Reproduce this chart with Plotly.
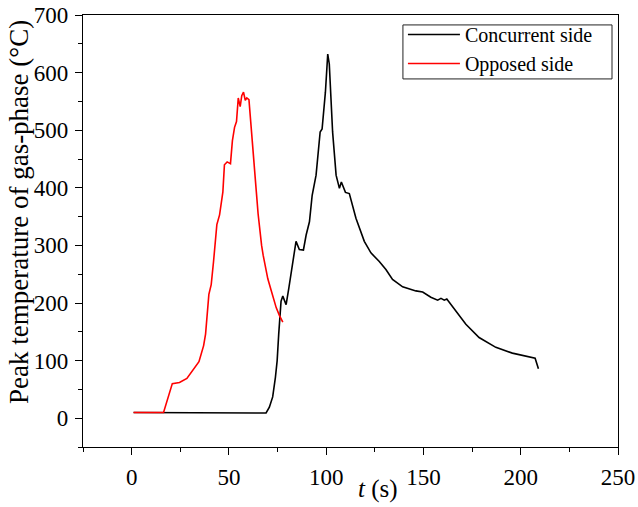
import plotly.graph_objects as go

# Concurrent side (black)
conc_t = [1, 30, 50, 69.1, 70.8, 72.5, 73.9, 74.8, 75.6, 76.8, 77.7, 79.4, 80.8, 82, 82.8,
          83.7, 84.5, 86.2, 88.3, 89.7, 91.4, 92.8, 94.8, 96.9, 97.9, 99.6, 100.8, 101.6,
          103.3, 105.1, 106.8, 107.8, 109.9, 111.9, 115.3, 119.6, 123, 127.3, 130.7, 134.1,
          139.3, 146.1, 149.6, 153.8, 157.3, 159, 160.7, 162, 165, 171.8, 178.6, 187.2,
          195.7, 202.6, 207.4, 209.1]
conc_T = [10, 10, 9, 9, 19, 37, 71, 100, 146, 203, 212, 197, 226, 255, 267,
          290, 307, 293, 292, 318, 341, 387, 422, 497, 502, 566, 632, 615,
          497, 422, 399, 410, 392, 390, 347, 307, 287, 272, 258, 241,
          228, 221, 219, 210, 205, 208, 205, 207, 193, 163, 140, 123,
          113, 107, 104, 86]

# Opposed side (red)
opp_t = [1, 16.4, 20.9, 24.6, 28.4, 31.5, 34.6, 37, 38, 39.7, 40.9, 42.1, 43.8, 45.2, 46.9,
         47.7, 49.1, 50.8, 51.8, 52.9, 53.9, 54.8, 55.8, 56.6, 57.5, 58.4, 59.2, 60.3,
         61.4, 62.4, 63.3, 64.1, 65.0, 65.9, 66.8, 67.6, 68.5, 70, 71.7, 74.3, 76, 77.7]
opp_T = [10, 10, 60, 62, 69, 83, 98, 126, 146, 215, 232, 272, 336, 353, 393,
         440, 445, 442, 482, 505, 515, 556, 541, 560, 566, 552, 556, 553,
         502, 465, 425, 393, 355, 322, 300, 283, 265, 242, 222, 192, 178, 167]

x_ticks = [0, 50, 100, 150, 200, 250]
y_ticks = [0, 100, 200, 300, 400, 500, 600, 700]
x_title = "<i>t</i> (s)"
y_title = "Peak temperature of gas-phase (°C)"

FONT = "Liberation Serif"

fig = go.Figure()
fig.add_trace(go.Scatter(x=conc_t, y=conc_T, mode="lines", name="Concurrent side",
                         line=dict(color="black", width=1.6)))
fig.add_trace(go.Scatter(x=opp_t, y=opp_T, mode="lines", name="Opposed side",
                         line=dict(color="#ff0000", width=1.6)))

axis_common = dict(
    showline=True, linecolor="black", linewidth=1.3, mirror=True,
    ticks="outside", ticklen=7, tickwidth=1.3, tickcolor="black",
    showgrid=False, zeroline=False, automargin=False, ticklabelstandoff=2,
    tickfont=dict(family=FONT, size=23, color="black"),
)

fig.update_xaxes(range=[-25, 250], tickvals=x_ticks,
                 minor=dict(dtick=25, tick0=0, ticks="outside", ticklen=4, tickwidth=1.3, tickcolor="black"),
                 **axis_common)
fig.update_yaxes(range=[-50, 700], tickvals=y_ticks,
                 minor=dict(dtick=50, tick0=0, ticks="outside", ticklen=4, tickwidth=1.3, tickcolor="black"),
                 **axis_common)

# axis titles
fig.add_annotation(text=x_title, xref="paper", yref="paper", x=0.551, y=-0.134,
                   xanchor="center", yanchor="bottom", showarrow=False,
                   font=dict(family=FONT, size=25, color="black"))
fig.add_annotation(text=y_title, xref="paper", yref="paper", x=-0.1196, y=0.544,
                   xanchor="center", yanchor="middle", showarrow=False, textangle=-90,
                   font=dict(family=FONT, size=27, color="black"))

# legend frame
fig.add_shape(type="rect", xref="paper", yref="paper", x0=0.598, x1=0.9888, y0=0.852, y1=0.977,
              line=dict(color="#222", width=1), fillcolor="white", layer="below")

fig.update_layout(
    template="none",
    width=638, height=507,
    margin=dict(l=83, r=20, t=15, b=60, autoexpand=False),
    paper_bgcolor="white", plot_bgcolor="white",
    font=dict(family=FONT, color="black"),
    legend=dict(x=0.598, y=1.0, xanchor="left", yanchor="top",
                bgcolor="rgba(0,0,0,0)", borderwidth=0,
                font=dict(family=FONT, size=20, color="black"),
                tracegroupgap=0, itemwidth=52),
    showlegend=True,
)

fig.write_html("out.html", config={"displayModeBar": False},
               post_script="document.body.style.margin='0';")
